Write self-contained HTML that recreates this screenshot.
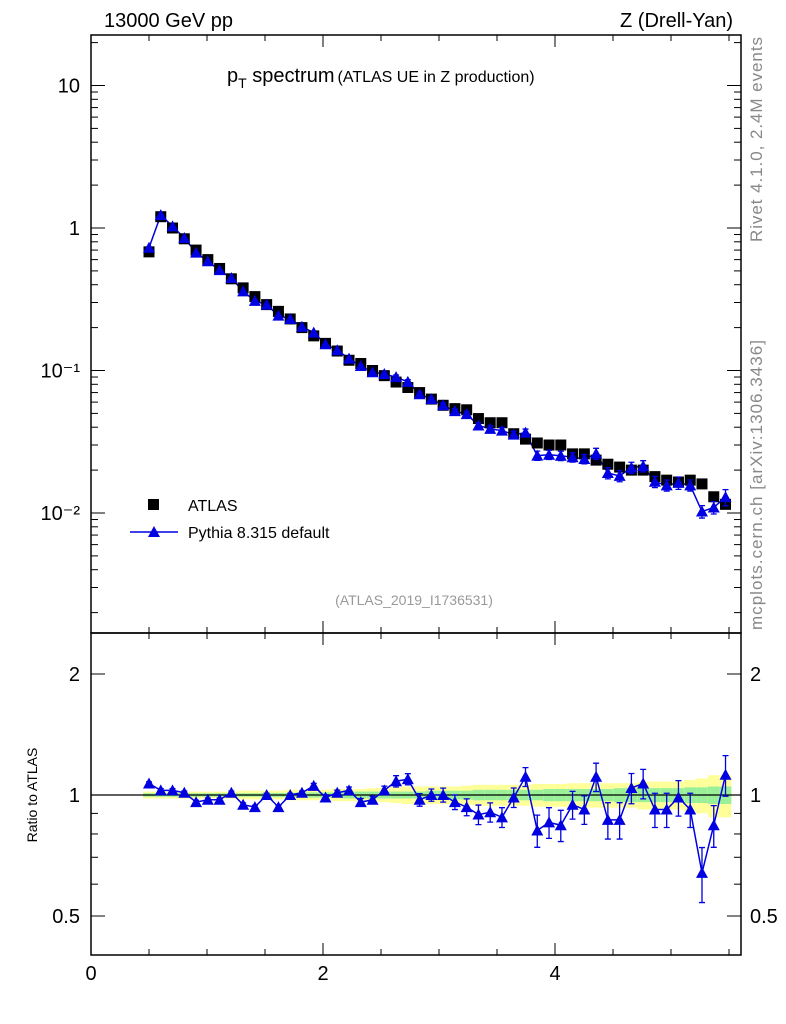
<!DOCTYPE html>
<html><head><meta charset="utf-8"><style>
body{margin:0;background:#fff;}
svg{display:block;font-family:"Liberation Sans",sans-serif;}
</style></head><body>
<svg id="chart" width="786" height="1024" viewBox="0 0 786 1024">
<g id="bands"></g>
<g id="axes"></g>
<g id="marks"></g>
<text x="104" y="27" font-size="20">13000 GeV pp</text>
<text x="733" y="27" font-size="20" text-anchor="end">Z (Drell-Yan)</text>
<text x="227" y="82" font-size="20">p<tspan font-size="14" dy="6">T</tspan><tspan dy="-6"> spectrum</tspan><tspan font-size="16" dx="3">(ATLAS UE in Z production)</tspan></text>
<text x="414" y="605" font-size="14" fill="#999" text-anchor="middle">(ATLAS_2019_I1736531)</text>
<text transform="translate(762,242) rotate(-90)" font-size="17" fill="#888" textLength="205">Rivet 4.1.0,  2.4M events</text>
<text transform="translate(762,630) rotate(-90)" font-size="17" fill="#888" textLength="290">mcplots.cern.ch [arXiv:1306.3436]</text>
<text transform="translate(37,795) rotate(-90)" font-size="14" text-anchor="middle">Ratio to ATLAS</text>
<g>
<rect x="148" y="499" width="11" height="11" fill="#000"/>
<text x="188" y="511" font-size="16">ATLAS</text>
<line x1="130" y1="532" x2="178" y2="532" stroke="#0000e0" stroke-width="1.5"/>
<polygon points="154,526 160,537 148,537" fill="#0000e0"/>
<text x="188" y="538" font-size="16">Pythia 8.315 default</text>
</g>
</svg>
<script>
const dataVals=[0.68,1.2,1.0,0.84,0.70,0.60,0.52,0.44,0.38,0.33,0.29,0.26,0.23,0.20,0.175,0.155,0.137,0.118,0.112,0.10,0.092,0.083,0.076,0.07,0.063,0.057,0.054,0.053,0.046,0.043,0.043,0.036,0.033,0.031,0.030,0.030,0.026,0.026,0.0235,0.022,0.021,0.020,0.020,0.018,0.017,0.0165,0.017,0.016,0.013,0.0115];
const ratioVals=[1.068,1.027,1.027,1.013,0.96,0.973,0.973,1.013,0.946,0.933,1.00,0.933,1.00,1.013,1.054,0.986,1.013,1.027,0.96,0.973,1.027,1.082,1.095,0.973,1.00,1.00,0.96,0.933,0.894,0.906,0.88,0.986,1.11,0.816,0.855,0.841,0.946,0.92,1.11,0.867,0.867,1.041,1.068,0.92,0.92,0.986,0.92,0.64,0.841,1.123];
const mcErr=[0.01,0.01,0.01,0.01,0.01,0.01,0.01,0.01,0.01,0.01,0.01,0.01,0.01,0.01,0.015,0.015,0.015,0.02,0.02,0.02,0.025,0.035,0.035,0.035,0.035,0.04,0.04,0.045,0.05,0.05,0.05,0.055,0.06,0.075,0.075,0.075,0.075,0.075,0.09,0.09,0.09,0.09,0.09,0.09,0.09,0.1,0.09,0.1,0.1,0.13];
const statBand=[0.01,0.01,0.01,0.01,0.01,0.01,0.01,0.01,0.01,0.01,0.012,0.012,0.012,0.015,0.015,0.015,0.015,0.02,0.02,0.02,0.02,0.02,0.02,0.02,0.025,0.025,0.025,0.025,0.03,0.03,0.03,0.03,0.03,0.03,0.035,0.035,0.035,0.035,0.035,0.035,0.04,0.04,0.04,0.04,0.04,0.04,0.045,0.045,0.05,0.05];
const totBand=[0.02,0.02,0.02,0.02,0.02,0.02,0.02,0.02,0.025,0.025,0.025,0.025,0.03,0.03,0.03,0.03,0.035,0.035,0.035,0.04,0.04,0.045,0.05,0.05,0.05,0.05,0.05,0.055,0.06,0.06,0.06,0.06,0.06,0.065,0.065,0.065,0.07,0.07,0.07,0.07,0.07,0.07,0.08,0.08,0.08,0.08,0.09,0.1,0.12,0.12];
const xTicks=[0,2,4];
const mainTicks=[{v:10,l:"10"},{v:1,l:"1"},{v:0.1,l:"10⁻¹"},{v:0.01,l:"10⁻²"}];
const ratioTicks=[{v:2,l:"2"},{v:1,l:"1"},{v:0.5,l:"0.5"}];

const NS="http://www.w3.org/2000/svg";
const L=91,R=741,T=35,M=633,B=955;
const sx=v=>L+116*v;
const sy=v=>228-142.5*Math.log10(v);
const ry=v=>795-402*Math.log10(v);
const xAt=i=>0.5+i*(4.97/49);
function mk(p,tag,attrs){const e=document.createElementNS(NS,tag);for(const k in attrs)e.setAttribute(k,attrs[k]);p.appendChild(e);return e;}
const gA=document.getElementById('axes'),gM=document.getElementById('marks'),gB=document.getElementById('bands');

const hw=5.85;
for(let i=0;i<dataVals.length;i++){
  const x=sx(xAt(i));
  const y1=mk(gB,'rect',{x:x-hw,width:2*hw,y:ry(1+totBand[i]),height:ry(1-totBand[i])-ry(1+totBand[i]),fill:'#ffff99'});
  
  
  const g1=mk(gB,'rect',{x:x-hw,width:2*hw,y:ry(1+statBand[i]),height:ry(1-statBand[i])-ry(1+statBand[i]),fill:'#99f099'});
  
  
}

const f1=mk(gA,'rect',{x:L,y:T,width:R-L,height:M-T,fill:'none',stroke:'#000','stroke-width':1.5});


const f2=mk(gA,'rect',{x:L,y:M,width:R-L,height:B-M,fill:'none',stroke:'#000','stroke-width':1.5});


const one=mk(gA,'line',{x1:L,x2:R,y1:ry(1),y2:ry(1),stroke:'#000','stroke-width':1.2});



for(let v=0;v<=5.6;v+=0.5){
  const x=sx(v),maj=Math.abs(v%2)<1e-9,len=maj?12:6;
  [[T,1],[M,-1],[M,1],[B,-1]].forEach(([y,d])=>{mk(gA,'line',{x1:x,x2:x,y1:y,y2:y+d*len,stroke:'#000'});});
}
xTicks.forEach(v=>{const t=mk(gA,'text',{x:sx(v),y:980,'font-size':20,'text-anchor':'middle'});t.textContent=v;

});

for(let e=-3;e<=1;e++){for(let k=1;k<=9;k++){const v=k*Math.pow(10,e);const y=sy(v);if(y<T||y>M)continue;const len=k==1?14:7;
mk(gA,'line',{x1:L,x2:L+len,y1:y,y2:y,stroke:'#000'});mk(gA,'line',{x1:R,x2:R-len,y1:y,y2:y,stroke:'#000'});}}
mainTicks.forEach(t=>{const e=mk(gA,'text',{x:80,y:sy(t.v)+7,'font-size':20,'text-anchor':'end'});e.textContent=t.l;

});

[0.5,0.6,0.7,0.8,0.9,1,2].forEach(v=>{const y=ry(v);const len=(v==1||v==2||v==0.5)?14:7;
mk(gA,'line',{x1:L,x2:L+len,y1:y,y2:y,stroke:'#000'});mk(gA,'line',{x1:R,x2:R-len,y1:y,y2:y,stroke:'#000'});});
ratioTicks.forEach(t=>{[80,750].forEach((x,j)=>{const e=mk(gA,'text',{x:x,y:ry(t.v)+7,'font-size':20,'text-anchor':j?'start':'end'});e.textContent=t.l;

});});

let mcPts=[],rPts=[];
for(let i=0;i<dataVals.length;i++){
  const x=sx(xAt(i)),mc=dataVals[i]*ratioVals[i];
  mcPts.push(x+','+sy(mc));rPts.push(x+','+ry(ratioVals[i]));
}
const ml=mk(gM,'polyline',{points:mcPts.join(' '),fill:'none',stroke:'#0000e0','stroke-width':1.5});


const rl=mk(gM,'polyline',{points:rPts.join(' '),fill:'none',stroke:'#0000e0','stroke-width':1.5});


for(let i=0;i<dataVals.length;i++){
  const x=sx(xAt(i)),y=sy(dataVals[i]);
  const s=mk(gM,'rect',{x:x-5.5,y:y-5.5,width:11,height:11,fill:'#000'});
  
  
}
for(let i=0;i<dataVals.length;i++){
  const x=sx(xAt(i)),mc=dataVals[i]*ratioVals[i],y=sy(mc),e=mcErr[i];
  if(e>0.02){const a=sy(mc*(1+e)),b=sy(mc*(1-e));mk(gM,'path',{d:`M${x},${a}V${b}M${x-3},${a}H${x+3}M${x-3},${b}H${x+3}`,stroke:'#0000e0','stroke-width':1.3});}
  const t=mk(gM,'polygon',{points:`${x},${y-6} ${x+6},${y+5} ${x-6},${y+5}`,fill:'#0000e0'});
  
  
  const r=ratioVals[i],yr=ry(r);
  const a=ry(r+e),b=ry(r-e);
  mk(gM,'path',{d:`M${x},${a}V${b}M${x-3},${a}H${x+3}M${x-3},${b}H${x+3}`,stroke:'#0000e0','stroke-width':1.3});
  const tr=mk(gM,'polygon',{points:`${x},${yr-6} ${x+6},${yr+5} ${x-6},${yr+5}`,fill:'#0000e0'});
  
  
}
</script>
</body></html>
